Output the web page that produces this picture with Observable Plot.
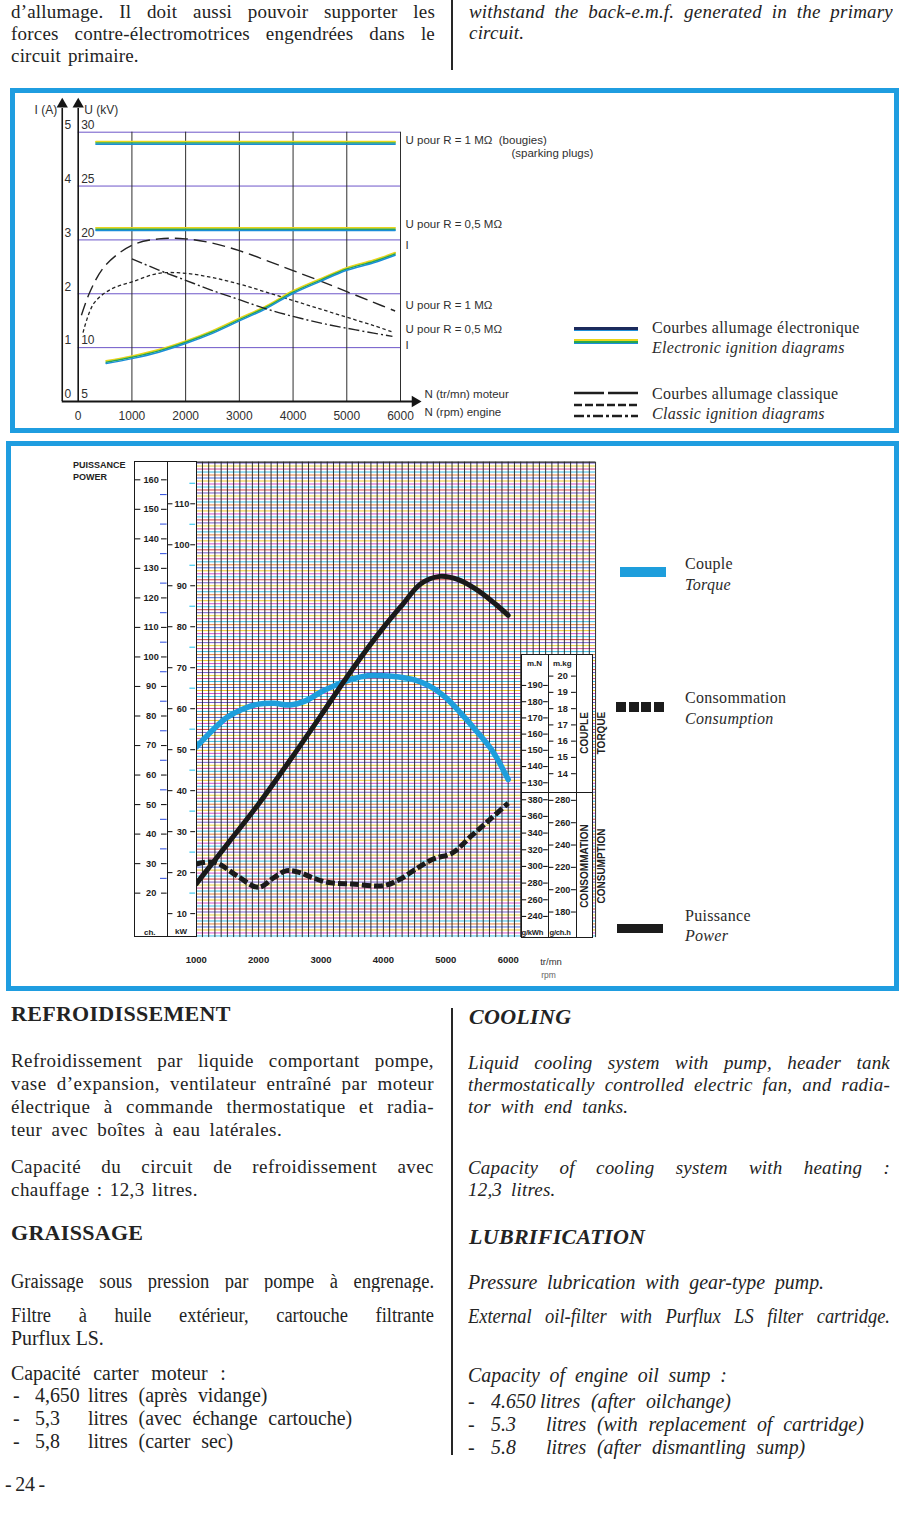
<!DOCTYPE html>
<html><head><meta charset="utf-8">
<script src="https://cdn.jsdelivr.net/npm/d3@7"></script>
<script src="https://cdn.jsdelivr.net/npm/@observablehq/plot@0.6"></script>
<style>
html,body{margin:0;padding:0;background:#fff;}
#page{position:relative;width:906px;height:1533px;overflow:hidden;background:#fff;font-family:"Liberation Serif","DejaVu Serif",serif;color:#232323;}
.ln{position:absolute;white-space:nowrap;font-size:19px;line-height:22px;height:22px;letter-spacing:0.45px;}
.j{text-align:justify;text-align-last:justify;white-space:normal;overflow:hidden;}
.it{font-style:italic;letter-spacing:0.2px;}
.h{font-weight:bold;font-size:22px;letter-spacing:0.3px;}
.c{font-size:20.5px;letter-spacing:0;transform-origin:0 50%;}
.vr{position:absolute;background:#262626;width:1.5px;}
.box{position:absolute;border:5px solid #1f9de0;box-sizing:border-box;}
.lg{position:absolute;font-size:16px;white-space:nowrap;line-height:20px;letter-spacing:0.3px;color:#2a2a2a;}
.ax{position:absolute;background:#fff;border:1.4px solid #1a1a1a;box-sizing:border-box;}
.sans{position:absolute;font-family:"Liberation Sans",Arial,sans-serif;font-weight:bold;color:#222;white-space:nowrap;}
</style></head><body><div id="page"></div>
<script>
// ================= DATA =================
// Chart 1 : ignition curves (x = engine speed, rpm)
const rpmTicks1 = [0, 1000, 2000, 3000, 4000, 5000, 6000];
const uGridLines = [10, 15, 20, 25, 30];
const uTickLabels = [30, 25, 20, 10, 5];
const iTickLabels = [5, 4, 3, 2, 1, 0];
// electronic ignition
const elecURpm = [330, 5900];
const elecU1M = [29.0, 29.0];
const elecU05M = [21.0, 21.0];
const elecIRpm = [520, 1000, 1500, 2000, 2500, 3000, 3500, 4000, 4500, 5000, 5500, 5900];
const elecI = [0.73, 0.82, 0.94, 1.10, 1.29, 1.52, 1.75, 2.03, 2.25, 2.46, 2.60, 2.74];
// classic ignition
const classU1MRpm = [60, 230, 500, 1000, 1500, 2000, 2500, 3000, 3500, 4000, 4500, 5000, 5500, 5900];
const classU1M = [13.0, 15.3, 17.6, 19.5, 20.1, 20.1, 19.7, 19.0, 18.1, 17.15, 16.2, 15.2, 14.2, 13.4];
const classU05MRpm = [90, 290, 600, 1000, 1500, 2000, 2500, 3000, 3500, 4000, 4500, 5000, 5500, 5850];
const classU05M = [11.4, 14.1, 15.4, 16.1, 16.9, 16.9, 16.5, 15.9, 15.15, 14.37, 13.6, 12.82, 12.05, 11.45];
const classIRpm = [1000, 1500, 2000, 2500, 3000, 3500, 4000, 4500, 5000, 5500, 5850];
const classI = [2.65, 2.44, 2.25, 2.06, 1.89, 1.72, 1.58, 1.46, 1.36, 1.27, 1.21];
const curveLabels1 = ["U pour R = 1 MΩ  (bougies)", "U pour R = 0,5 MΩ", "I", "U pour R = 1 MΩ", "U pour R = 0,5 MΩ", "I"];
const curveLabelsU = [29.23, 21.44, 19.5, 13.93, 11.70, 10.22];
const speedLabels1 = ["N (tr/mn) moteur", "N (rpm) engine"];

// Chart 2 : engine performance
const rpmTicks2 = [1000, 2000, 3000, 4000, 5000, 6000];
const powerRpm = [1000, 1500, 2000, 2500, 3000, 3500, 4000, 4300, 4600, 4900, 5200, 5500, 5800, 6000];
const powerKW = [17.3, 27.0, 36.8, 47.4, 58.4, 69.6, 79.8, 85.3, 90.5, 92.3, 91.5, 89.0, 85.5, 82.8];
const torqueRpm = [1000, 1250, 1500, 1750, 2000, 2250, 2500, 2750, 3000, 3250, 3500, 3750, 4000, 4250, 4500, 4750, 5000, 5250, 5500, 5750, 6000];
const torqueNm = [152, 162, 170.5, 175.5, 178.5, 179, 178, 180.5, 186, 190.5, 194, 196, 196, 195.3, 193.5, 189.5, 182.5, 172.5, 161.5, 149.5, 132];
const consRpm = [1000, 1300, 1650, 2000, 2250, 2450, 2650, 2850, 3100, 3500, 4000, 4250, 4500, 4800, 5100, 5400, 5700, 6000];
const consGkWh = [303, 305, 289, 275, 287, 295, 293, 287, 281, 279, 277, 284, 296, 309, 316, 336, 356, 376];
const chTicks = [20, 30, 40, 50, 60, 70, 80, 90, 100, 110, 120, 130, 140, 150, 160];
const kwTicks = [10, 20, 30, 40, 50, 60, 70, 80, 90, 100, 110];
const nmTicks = [130, 140, 150, 160, 170, 180, 190];
const mkgTicks = [14, 15, 16, 17, 18, 19, 20];
const gkwhTicks = [240, 260, 280, 300, 320, 340, 360, 380];
const gchhTicks = [180, 200, 220, 240, 260, 280];

// ================= HELPERS =================
const page = document.getElementById("page");
function el(tag, cls, css, text) {
  const e = document.createElement(tag);
  if (cls) e.className = cls;
  if (css) e.style.cssText = css;
  if (text != null) e.textContent = text;
  page.appendChild(e);
  return e;
}
function line(cls, left, width, cy, text, extra = "") {
  return el("div", "ln " + cls, `left:${left}px;${width ? `width:${width}px;` : ""}top:${cy - 11}px;${extra}`, text);
}
// condensed line (scaled horizontally)
function cline(cls, left, width, cy, text, extra = "", s = 0.9) {
  return line("c " + cls, left, width ? width / s : 0, cy, text, `transform:scaleX(${s});` + extra);
}
const SANS = "'Liberation Sans', Arial, sans-serif";
function layer({left = 0, top, width = 906, height, xd, xr, yd, yr, marks, extra = {}}) {
  const svg = Plot.plot({
    width, height, margin: 0,
    x: {domain: xd, range: xr.map(v => v - left), axis: null},
    y: {domain: yd, range: yr.map(v => v - top), axis: null},
    style: {background: "transparent", overflow: "visible", fontFamily: SANS},
    marks, ...extra
  });
  svg.style.position = "absolute";
  svg.style.left = left + "px";
  svg.style.top = top + "px";
  page.appendChild(svg);
  return svg;
}
const zip = (xs, ys) => xs.map((x, i) => ({x, y: ys[i]}));

// ================= TOP TEXT =================
line("j", 11, 424, 12, "d’allumage. Il doit aussi pouvoir supporter les", "letter-spacing:0.2px;");
line("j", 11, 424, 34, "forces contre-électromotrices engendrées dans le", "letter-spacing:0.2px;");
line("", 11, 0, 56, "circuit primaire.", "letter-spacing:0.2px;word-spacing:2px;");
line("j it", 469, 424, 12, "withstand the back-e.m.f. generated in the primary");
line("it", 469, 0, 33, "circuit.");
el("div", "vr", "left:451px;top:0;height:70px;");

// ================= CHART 1 =================
el("div", "box", "left:10px;top:88px;width:889px;height:345px;");
const C1 = {top: 88, height: 345, xd: [0, 6000], xr: [77.7, 400]};
const Urng = [401, 131.7];
const lab1 = {fontSize: 12, fill: "#2f2f2f", fontFamily: SANS};
const labR = {fontSize: 11.5, fill: "#2f2f2f", fontFamily: SANS, letterSpacing: "0.35px"};
const elecLine = (data) => [
  Plot.line(data, {x: "x", y: "y", stroke: "#e9d51a", strokeWidth: 1.7, dy: -1.3, curve: "catmull-rom"}),
  Plot.line(data, {x: "x", y: "y", stroke: "#27a650", strokeWidth: 1.5, dy: 0, curve: "catmull-rom"}),
  Plot.line(data, {x: "x", y: "y", stroke: "#1a8ed8", strokeWidth: 1.5, dy: 1.3, curve: "catmull-rom"})
];
// U layer
layer({...C1, yd: [5, 30], yr: Urng, marks: [
  Plot.ruleY(uGridLines, {x1: 0, x2: 6000, stroke: "#6d56c9", strokeWidth: 1}),
  Plot.ruleX(rpmTicks1.slice(1), {y1: 5, y2: 30, stroke: "#2e2e2e", strokeWidth: 1}),
  Plot.ruleY([5], {x1: -297, x2: 6230, stroke: "#151515", strokeWidth: 1.8}),
  Plot.ruleX([0, -297], {y1: 5, y2: 32.2, stroke: "#151515", strokeWidth: 1.6}),
  Plot.dot([{x: 0, y: 32.6}, {x: -297, y: 32.6}], {x: "x", y: "y", symbol: "triangle", r: 4.2, fill: "#151515", stroke: "none"}),
  Plot.dot([{x: 6270, y: 5}], {x: "x", y: "y", symbol: "triangle", r: 4.2, rotate: 90, fill: "#151515", stroke: "none"}),
  ...elecLine(zip(elecURpm, elecU1M)),
  ...elecLine(zip(elecURpm, elecU05M)),
  Plot.line(zip(classU1MRpm, classU1M), {x: "x", y: "y", stroke: "#232323", strokeWidth: 1.4, strokeDasharray: "13,6", strokeLinecap: "butt", curve: "catmull-rom"}),
  Plot.line(zip(classU05MRpm, classU05M), {x: "x", y: "y", stroke: "#232323", strokeWidth: 1.3, strokeDasharray: "3.5,2.6", strokeLinecap: "butt", curve: "catmull-rom"}),
  Plot.text(uTickLabels, {x: 0, y: d => d, text: d => String(d), dx: 3, dy: -7, textAnchor: "start", ...lab1}),
  Plot.text(rpmTicks1, {x: d => d, y: 5, text: d => String(d), dy: 15, ...lab1}),
  Plot.text(["I (A)"], {x: -297, y: 32.6, text: d => d, dx: -5, dy: 6, textAnchor: "end", ...lab1}),
  Plot.text(["U (kV)"], {x: 0, y: 32.6, text: d => d, dx: 6, dy: 6, textAnchor: "start", ...lab1}),
  Plot.text(curveLabels1, {x: 6000, y: (d, i) => curveLabelsU[i], text: d => d, dx: 5, textAnchor: "start", ...labR}),
  Plot.text(["(sparking plugs)"], {x: 6000, y: 28.0, text: d => d, dx: 111, textAnchor: "start", ...labR}),
  Plot.text(speedLabels1.slice(0, 1), {x: 6000, y: 5, text: d => d, dx: 24, dy: -7, textAnchor: "start", ...labR}),
  Plot.text(speedLabels1.slice(1), {x: 6000, y: 5, text: d => d, dx: 24, dy: 11, textAnchor: "start", ...labR})
]});
// I layer
layer({...C1, yd: [0, 5], yr: Urng, marks: [
  ...elecLine(zip(elecIRpm, elecI)),
  Plot.line(zip(classIRpm, classI), {x: "x", y: "y", stroke: "#232323", strokeWidth: 1.4, strokeDasharray: "11,3,2,3", strokeLinecap: "butt", curve: "catmull-rom"}),
  Plot.text(iTickLabels, {x: -297, y: d => d, text: d => String(d), dx: 5.5, dy: -7, ...lab1})
]});
// legend chart 1
el("div", "", "position:absolute;left:574px;top:327px;width:64px;height:2.5px;background:#1b2a5c;border-bottom:1px solid #1d8fd8;");
el("div", "", "position:absolute;left:574px;top:339px;width:64px;height:1.6px;background:#e9d51a;");
el("div", "", "position:absolute;left:574px;top:340.6px;width:64px;height:2px;background:#27a650;");
el("div", "", "position:absolute;left:574px;top:342.6px;width:64px;height:1.4px;background:#1a8ed8;");
const lsv = document.createElementNS("http://www.w3.org/2000/svg", "svg");
lsv.setAttribute("width", 70); lsv.setAttribute("height", 32);
lsv.style.cssText = "position:absolute;left:572px;top:388px;";
lsv.innerHTML = `<line x1="2" x2="66" y1="5" y2="5" stroke="#1e1e1e" stroke-width="2.6" stroke-dasharray="30,4"/>
<line x1="2" x2="66" y1="17" y2="17" stroke="#1e1e1e" stroke-width="2.6" stroke-dasharray="8,3"/>
<line x1="2" x2="66" y1="28" y2="28" stroke="#1e1e1e" stroke-width="2.6" stroke-dasharray="10,3,3,3"/>`;
page.appendChild(lsv);
el("div", "lg", "left:652px;top:318px;", "Courbes allumage électronique");
el("div", "lg it", "left:652px;top:338px;", "Electronic ignition diagrams");
el("div", "lg", "left:652px;top:384px;", "Courbes allumage classique");
el("div", "lg it", "left:652px;top:404px;", "Classic ignition diagrams");

// ================= CHART 2 =================
el("div", "box", "left:6px;top:441px;width:893px;height:550px;");
const C2 = {top: 440, height: 552, xd: [1000, 6000], xr: [195.7, 507.7]};
const KW = {yd: [0, 110], yr: [954.3, 503.3]};
const gridPalette = ["#36c0ea", "#d448cc", "#eec21e", "#4562d8", "#e27a34", "#28b6e0", "#c63c8c", "#e6cf2e", "#6c52c8", "#d63434"];
const hGrid = d3.range(4.6, 120.1, 0.73);
const vGrid = d3.range(1000, 7401, 100);
// grid layer
layer({...C2, ...KW, extra: {color: {type: "identity"}}, marks: [
  Plot.ruleY(hGrid, {x1: 1000, x2: 7400, stroke: (d, i) => gridPalette[i % gridPalette.length], strokeWidth: 1, strokeOpacity: 0.95}),
  Plot.ruleX(vGrid, {y1: 4.2, y2: 120.15, stroke: "#262626", strokeWidth: 0.95}),
  Plot.ruleY([120.15], {x1: 1000, x2: 7400, stroke: "#222", strokeWidth: 1.2}),
  Plot.text(rpmTicks2, {x: d => d, y: 0, dy: 5, text: d => String(d), fontSize: 9.5, fontWeight: "bold", fill: "#222"}),
  Plot.text(["tr/mn"], {x: 6000, y: 0, dx: 32, dy: 7, text: d => d, textAnchor: "start", fontSize: 9.5, fill: "#333"}),
  Plot.text(["rpm"], {x: 6000, y: 0, dx: 33, dy: 20, text: d => d, textAnchor: "start", fontSize: 8.5, fill: "#666"})
]});
// torque layer
layer({...C2, yd: [130, 190], yr: [782.3, 685], marks: [
  Plot.line(zip(torqueRpm, torqueNm), {x: "x", y: "y", stroke: "#1e9edc", strokeWidth: 5.5, curve: "catmull-rom"})
]});
// consumption layer
layer({...C2, yd: [240, 380], yr: [916, 799.3], marks: [
  Plot.line(zip(consRpm, consGkWh), {x: "x", y: "y", stroke: "#1b1b1b", strokeWidth: 5, strokeDasharray: "9,3", strokeLinecap: "butt", curve: "catmull-rom"})
]});
// power layer
layer({...C2, ...KW, marks: [
  Plot.line(zip(powerRpm, powerKW), {x: "x", y: "y", stroke: "#1a1a1a", strokeWidth: 5, curve: "catmull-rom"})
]});

// axis boxes
el("div", "ax", "left:133.5px;top:461px;width:34px;height:476px;");
el("div", "ax", "left:166.5px;top:461px;width:30px;height:476px;");
el("div", "ax", "left:520.5px;top:654px;width:28.5px;height:139px;");
el("div", "ax", "left:547.8px;top:654px;width:29.5px;height:139px;");
el("div", "ax", "left:576.2px;top:654px;width:17px;height:139px;");
el("div", "ax", "left:520.5px;top:791.5px;width:28.5px;height:146px;");
el("div", "ax", "left:547.8px;top:791.5px;width:29.5px;height:146px;");
el("div", "ax", "left:576.2px;top:791.5px;width:17px;height:146px;");

function axisBox(left, width, yd, yr, ticks, minor, minorColor) {
  const lbl = {fontSize: 9.2, fontWeight: "bold", fill: "#1d1d1d"};
  layer({left, top: 440, width, height: 552, xd: [0, 1], xr: [left, left + width], yd, yr, marks: [
    Plot.ruleY(ticks, {x1: 0.03, x2: 0.19, stroke: "#1d1d1d", strokeWidth: 1.1}),
    Plot.ruleY(ticks, {x1: 0.81, x2: 0.98, stroke: "#1d1d1d", strokeWidth: 1.1}),
    Plot.ruleY(minor, {x1: 0.78, x2: 0.98, stroke: minorColor, strokeWidth: 1.1}),
    Plot.text(ticks, {x: 0.5, y: d => d, text: d => String(d), ...lbl})
  ]});
}
axisBox(134, 33.3, [20, 160], [892.7, 479.3], chTicks, chTicks.slice(0, -1).map(d => d + 5), "#3d5ae0");
axisBox(167.3, 28.7, [10, 110], [913.3, 503.3], kwTicks, kwTicks.map(d => d + 5), "#2ec6ee");
axisBox(521, 27.3, [130, 190], [782.3, 685], nmTicks, [], "#333");
axisBox(548.3, 28.4, [14, 20], [773.3, 675.7], mkgTicks, [], "#333");
axisBox(521, 27.3, [240, 380], [916, 799.3], gkwhTicks, [], "#333");
axisBox(548.3, 28.4, [180, 280], [911.7, 800], gchhTicks, [], "#333");

el("div", "sans", "left:73px;top:460px;font-size:9px;line-height:11px;", "PUISSANCE");
el("div", "sans", "left:73px;top:472px;font-size:9px;line-height:11px;", "POWER");
el("div", "sans", "left:144px;top:928px;font-size:8px;", "ch.");
el("div", "sans", "left:175px;top:927px;font-size:8px;", "kW");
el("div", "sans", "left:527px;top:659px;font-size:8px;", "m.N");
el("div", "sans", "left:553px;top:659px;font-size:8px;", "m.kg");
el("div", "sans", "left:521.5px;top:928px;font-size:7.6px;letter-spacing:-0.2px;", "g/kWh");
el("div", "sans", "left:549.5px;top:928px;font-size:7.6px;letter-spacing:-0.2px;", "g/ch.h");
function vlabel(cx, cy, text, size) {
  return el("div", "sans", `left:${cx}px;top:${cy}px;font-size:${size}px;line-height:${size}px;transform:translate(-50%,-50%) rotate(-90deg);`, text);
}
vlabel(585, 733, "COUPLE", 10);
vlabel(601.5, 733, "TORQUE", 10);
vlabel(585, 866, "CONSOMMATION", 10);
vlabel(601.5, 866, "CONSUMPTION", 10);

// legend chart 2
el("div", "", "position:absolute;left:620px;top:567px;width:46px;height:10px;background:#1e9edc;");
for (let k = 0; k < 4; k++) el("div", "", `position:absolute;left:${616 + k * 12.7}px;top:702px;width:10px;height:10px;background:#1c1c1c;`);
el("div", "", "position:absolute;left:617px;top:924px;width:46px;height:9px;background:#1c1c1c;");
el("div", "lg", "left:685px;top:554px;", "Couple");
el("div", "lg it", "left:685px;top:575px;", "Torque");
el("div", "lg", "left:685px;top:688px;", "Consommation");
el("div", "lg it", "left:685px;top:709px;", "Consumption");
el("div", "lg", "left:685px;top:906px;", "Puissance");
el("div", "lg it", "left:685px;top:926px;", "Power");

// ================= BOTTOM TEXT =================
line("h", 11, 0, 1014, "REFROIDISSEMENT");
line("j", 11, 423, 1061, "Refroidissement par liquide comportant pompe,");
line("j", 11, 423, 1084, "vase d’expansion, ventilateur entraîné par moteur");
line("j", 11, 423, 1107, "électrique à commande thermostatique et radia-");
line("", 11, 0, 1130, "teur avec boîtes à eau latérales.", "word-spacing:4px;");
line("j", 11, 423, 1167, "Capacité du circuit de refroidissement avec");
line("", 11, 0, 1190, "chauffage : 12,3 litres.", "word-spacing:2px;");
line("h", 11, 0, 1233, "GRAISSAGE");
cline("j", 11, 423, 1281, "Graissage sous pression par pompe à engrenage.");
cline("j", 11, 423, 1315, "Filtre à huile extérieur, cartouche filtrante");
cline("", 11, 0, 1338, "Purflux LS.", "", 0.97);
cline("", 11, 0, 1373, "Capacité carter moteur :", "word-spacing:8px;", 0.97);
const leftList = [["4,650", "litres (après vidange)"], ["5,3", "litres (avec échange cartouche)"], ["5,8", "litres (carter sec)"]];
leftList.forEach((r, i) => {
  const cy = 1395 + i * 23;
  cline("", 13, 0, cy, "-", "", 0.97);
  cline("", 35, 0, cy, r[0], "", 0.97);
  cline("", 88, 0, cy, r[1], "word-spacing:6px;", 0.97);
});
cline("", 5, 0, 1484, "- 24 -", "word-spacing:-1.5px;", 0.97);

line("h it", 469, 0, 1017, "COOLING");
line("j it", 468, 422, 1063, "Liquid cooling system with pump, header tank");
line("j it", 468, 422, 1085, "thermostatically controlled electric fan, and radia-");
line("it", 468, 0, 1107, "tor with end tanks.", "word-spacing:5px;");
line("j it", 468, 422, 1168, "Capacity of cooling system with heating :");
line("it", 468, 0, 1190, "12,3 litres.", "word-spacing:4px;");
line("h it", 469, 0, 1237, "LUBRIFICATION");
cline("it", 468, 0, 1282, "Pressure lubrication with gear-type pump.", "word-spacing:5px;", 0.97);
cline("j it", 468, 422, 1316, "External oil-filter with Purflux LS filter cartridge.");
cline("it", 468, 0, 1375, "Capacity of engine oil sump :", "word-spacing:5px;", 0.97);
const rightList = [["4.650", "litres (after oilchange)", 540], ["5.3", "litres (with replacement of cartridge)", 546], ["5.8", "litres (after dismantling sump)", 546]];
rightList.forEach((r, i) => {
  const cy = 1401 + i * 23;
  cline("it", 468, 0, cy, "-", "", 0.97);
  cline("it", 491, 0, cy, r[0], "", 0.97);
  cline("it", r[2], 0, cy, r[1], "word-spacing:6px;", 0.97);
});
el("div", "vr", "left:451px;top:1008px;height:447px;");
</script>
</body></html>
